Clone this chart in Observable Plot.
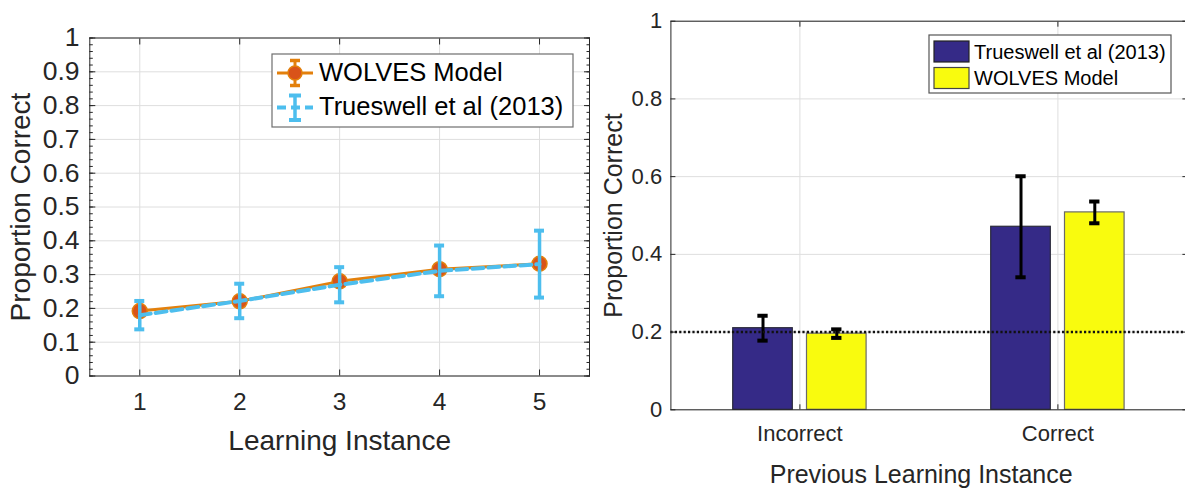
<!DOCTYPE html>
<html>
<head>
<meta charset="utf-8">
<script src="https://cdn.jsdelivr.net/npm/d3@7"></script>
<script src="https://cdn.jsdelivr.net/npm/@observablehq/plot@0.6"></script>
<style>
html, body { margin: 0; padding: 0; background: #fff; overflow: hidden; }
#wrap { position: relative; width: 1185px; height: 488px; overflow: hidden; background: #fff; }
#left, #right { position: absolute; top: 0; width: 600px; height: 488px; }
#left { left: 0; }
#right { left: 600px; }
#wrap svg { max-width: none !important; }
</style>
</head>
<body>
<div id="wrap"><div id="left"></div><div id="right"></div></div>
<script>
// ---------- data: left panel ----------
const instances = [1, 2, 3, 4, 5];
const wolvesMean = [0.192, 0.221, 0.280, 0.316, 0.332];
const wolvesErr  = [0.008, 0.008, 0.008, 0.008, 0.008];
const truesMean  = [0.180, 0.222, 0.270, 0.311, 0.331];
const truesErr   = [0.042, 0.051, 0.052, 0.075, 0.099];
const leftYTicks = [0, 0.1, 0.2, 0.3, 0.4, 0.5, 0.6, 0.7, 0.8, 0.9, 1];
const leftSeriesNames = ["WOLVES Model", "Trueswell et al (2013)"];
const leftXLabel = "Learning Instance";
const leftYLabel = "Proportion Correct";

// ---------- data: right panel ----------
const prevCategories = ["Incorrect", "Correct"];
const truesBar     = [0.210, 0.471];
const truesBarErr  = [0.032, 0.130];
const wolvesBar    = [0.196, 0.508];
const wolvesBarErr = [0.011, 0.028];
const chanceLevel = 0.2;
const rightYTicks = [0, 0.2, 0.4, 0.6, 0.8, 1];
const rightSeriesNames = ["Trueswell et al (2013)", "WOLVES Model"];
const rightXLabel = "Previous Learning Instance";
const rightYLabel = "Proportion Correct";

// ---------- styles ----------
const FONT = "'Liberation Sans', Arial, Helvetica, sans-serif";
const AX = "#262626";
const GRID = "#dedede";
const ORANGE_LINE = "#E3800C";
const ORANGE_FACE = "#D95319";
const BLUE = "#4DBEEE";
const DARK = "#352A87";
const YEL = "#F9FB0E";
const fmt = d => String(+d.toFixed(1));

// ---------- left panel ----------
const wolves = instances.map((x, i) => ({x, y: wolvesMean[i], e: wolvesErr[i]}));
const trues = instances.map((x, i) => ({x, y: truesMean[i], e: truesErr[i]}));
const leftMinor = d3.range(0, 1.0001, 0.02);
const capL = 0.05;

const leftPlot = Plot.plot({
  width: 600, height: 488,
  marginLeft: 89.3, marginRight: 11, marginTop: 37.5, marginBottom: 112.5,
  style: {fontFamily: FONT, color: AX, background: "transparent", overflow: "visible"},
  x: {domain: [0.5, 5.5]},
  y: {domain: [0, 1]},
  marks: [
    Plot.gridX({ticks: instances, stroke: GRID, strokeOpacity: 1}),
    Plot.gridY({ticks: leftYTicks, stroke: GRID, strokeOpacity: 1}),
    // WOLVES (orange)
    Plot.line(wolves, {x: "x", y: "y", stroke: ORANGE_LINE, strokeWidth: 3}),
    Plot.ruleX(wolves, {x: "x", y1: d => d.y - d.e, y2: d => d.y + d.e, stroke: ORANGE_LINE, strokeWidth: 3}),
    Plot.ruleY(wolves, {y: d => d.y + d.e, x1: d => d.x - capL, x2: d => d.x + capL, stroke: ORANGE_LINE, strokeWidth: 3}),
    Plot.ruleY(wolves, {y: d => d.y - d.e, x1: d => d.x - capL, x2: d => d.x + capL, stroke: ORANGE_LINE, strokeWidth: 3}),
    Plot.dot(wolves, {x: "x", y: "y", r: 7.5, fill: ORANGE_FACE, stroke: ORANGE_LINE, strokeWidth: 1.5}),
    // Trueswell (blue dashed)
    Plot.line(trues, {x: "x", y: "y", stroke: BLUE, strokeWidth: 4, strokeDasharray: "11,5"}),
    Plot.ruleX(trues, {x: "x", y1: d => d.y - d.e, y2: d => d.y + d.e, stroke: BLUE, strokeWidth: 3.5}),
    Plot.ruleY(trues, {y: d => d.y + d.e, x1: d => d.x - capL, x2: d => d.x + capL, stroke: BLUE, strokeWidth: 4}),
    Plot.ruleY(trues, {y: d => d.y - d.e, x1: d => d.x - capL, x2: d => d.x + capL, stroke: BLUE, strokeWidth: 4}),
    // axes
    Plot.frame({stroke: AX}),
    Plot.axisX({ticks: instances, tickSize: -6, tickPadding: 23, fontSize: 24.5, tickFormat: d => String(d), label: null, stroke: AX, fill: AX}),
    Plot.axisX({anchor: "top", ticks: instances, tickSize: -6, tickFormat: () => "", label: null, stroke: AX}),
    Plot.axisY({ticks: leftMinor, tickSize: -3.5, tickFormat: () => "", label: null, stroke: AX}),
    Plot.axisY({anchor: "right", ticks: leftMinor, tickSize: -3.5, tickFormat: () => "", label: null, stroke: AX}),
    Plot.axisY({ticks: leftYTicks, tickSize: -6, tickPadding: 16.3, fontSize: 26.5, tickFormat: fmt, label: null, stroke: AX, fill: AX}),
    Plot.axisY({anchor: "right", ticks: leftYTicks, tickSize: -6, tickFormat: () => "", label: null, stroke: AX}),
    Plot.text([leftXLabel], {text: d => d, frameAnchor: "bottom", dy: 73.5, lineAnchor: "bottom", fontSize: 28, fill: AX}),
    Plot.text([leftYLabel], {text: d => d, frameAnchor: "left", dx: -68.3, rotate: -90, textAnchor: "middle", lineAnchor: "middle", fontSize: 28, fill: AX})
  ]
});
document.getElementById("left").appendChild(leftPlot);

// left legend
{
  const g = d3.select(leftPlot).append("g").attr("font-family", FONT).attr("text-anchor", "start");
  g.append("rect").attr("x", 272).attr("y", 54).attr("width", 301).attr("height", 73)
    .attr("fill", "#fff").attr("stroke", "#6e6e6e").attr("stroke-width", 1.2);
  // entry 1: WOLVES
  g.append("line").attr("x1", 277).attr("x2", 313).attr("y1", 73).attr("y2", 73).attr("stroke", ORANGE_LINE).attr("stroke-width", 3);
  g.append("line").attr("x1", 295).attr("x2", 295).attr("y1", 59.5).attr("y2", 86.5).attr("stroke", ORANGE_LINE).attr("stroke-width", 3);
  g.append("line").attr("x1", 290).attr("x2", 300).attr("y1", 60.5).attr("y2", 60.5).attr("stroke", ORANGE_LINE).attr("stroke-width", 3.5);
  g.append("line").attr("x1", 290).attr("x2", 300).attr("y1", 85.5).attr("y2", 85.5).attr("stroke", ORANGE_LINE).attr("stroke-width", 3.5);
  g.append("circle").attr("cx", 295).attr("cy", 73).attr("r", 7).attr("fill", ORANGE_FACE).attr("stroke", ORANGE_LINE).attr("stroke-width", 1.5);
  g.append("text").attr("x", 319).attr("y", 81).attr("font-size", 25.5).attr("fill", "#000").text(leftSeriesNames[0]);
  // entry 2: Trueswell
  g.append("line").attr("x1", 277).attr("x2", 313).attr("y1", 107.5).attr("y2", 107.5).attr("stroke", BLUE).attr("stroke-width", 4).attr("stroke-dasharray", "9,5");
  g.append("line").attr("x1", 295).attr("x2", 295).attr("y1", 94).attr("y2", 121.5).attr("stroke", BLUE).attr("stroke-width", 3.5);
  g.append("line").attr("x1", 289).attr("x2", 301).attr("y1", 95.5).attr("y2", 95.5).attr("stroke", BLUE).attr("stroke-width", 4);
  g.append("line").attr("x1", 289).attr("x2", 301).attr("y1", 120).attr("y2", 120).attr("stroke", BLUE).attr("stroke-width", 4);
  g.append("text").attr("x", 319).attr("y", 115).attr("font-size", 25.5).attr("fill", "#000").text(leftSeriesNames[1]);
}

// ---------- right panel ----------
const barHalf = 0.1155, barOff = 0.143, capR = 0.02;
const truesBars = prevCategories.map((c, i) => ({c, xi: i + 1 - barOff, y: truesBar[i], e: truesBarErr[i]}));
const wolvesBars = prevCategories.map((c, i) => ({c, xi: i + 1 + barOff, y: wolvesBar[i], e: wolvesBarErr[i]}));
const allBars = truesBars.concat(wolvesBars);
const catTicks = prevCategories.map((c, i) => i + 1);

const rightPlot = Plot.plot({
  width: 600, height: 488,
  marginLeft: 70.4, marginRight: 13.6, marginTop: 20.7, marginBottom: 78.7,
  style: {fontFamily: FONT, color: AX, background: "transparent", overflow: "visible"},
  x: {domain: [0.5, 2.5]},
  y: {domain: [0, 1]},
  marks: [
    Plot.gridX({ticks: catTicks, stroke: GRID, strokeOpacity: 1}),
    Plot.gridY({ticks: rightYTicks, stroke: GRID, strokeOpacity: 1}),
    Plot.rectY(truesBars, {x1: d => d.xi - barHalf, x2: d => d.xi + barHalf, y1: 0, y2: "y", fill: DARK, stroke: "#2a2a3a", strokeWidth: 1.2}),
    Plot.rectY(wolvesBars, {x1: d => d.xi - barHalf, x2: d => d.xi + barHalf, y1: 0, y2: "y", fill: YEL, stroke: "#6a6a6a", strokeWidth: 1.2}),
    Plot.ruleX(allBars, {x: "xi", y1: d => d.y - d.e, y2: d => d.y + d.e, stroke: "#000", strokeWidth: 3}),
    Plot.ruleY(allBars, {y: d => d.y + d.e, x1: d => d.xi - capR, x2: d => d.xi + capR, stroke: "#000", strokeWidth: 4}),
    Plot.ruleY(allBars, {y: d => d.y - d.e, x1: d => d.xi - capR, x2: d => d.xi + capR, stroke: "#000", strokeWidth: 4}),
    Plot.ruleY([chanceLevel], {y: d => d, stroke: "#111", strokeWidth: 2.5, strokeDasharray: "2.2,2.2"}),
    Plot.frame({stroke: AX}),
    Plot.axisX({ticks: catTicks, tickSize: -5, tickPadding: 20.9, fontSize: 22, tickFormat: i => prevCategories[i - 1], label: null, stroke: AX, fill: AX}),
    Plot.axisX({anchor: "top", ticks: catTicks, tickSize: -5, tickFormat: () => "", label: null, stroke: AX}),
    Plot.axisY({ticks: rightYTicks, tickSize: -5, tickPadding: 13.7, fontSize: 22, tickFormat: fmt, label: null, stroke: AX, fill: AX}),
    Plot.axisY({anchor: "right", ticks: rightYTicks, tickSize: -5, tickFormat: () => "", label: null, stroke: AX}),
    Plot.text([rightXLabel], {text: d => d, frameAnchor: "bottom", dy: 73, dx: -7.7, lineAnchor: "bottom", fontSize: 25, fill: AX}),
    Plot.text([rightYLabel], {text: d => d, frameAnchor: "left", dx: -57.4, rotate: -90, textAnchor: "middle", lineAnchor: "middle", fontSize: 25, fill: AX})
  ]
});
document.getElementById("right").appendChild(rightPlot);

// right legend (coordinates relative to right svg)
{
  const g = d3.select(rightPlot).append("g").attr("font-family", FONT).attr("text-anchor", "start");
  g.append("rect").attr("x", 329).attr("y", 35).attr("width", 242).attr("height", 58)
    .attr("fill", "#fff").attr("stroke", "#555").attr("stroke-width", 1.2);
  g.append("rect").attr("x", 334).attr("y", 41).attr("width", 35).attr("height", 21)
    .attr("fill", DARK).attr("stroke", "#222").attr("stroke-width", 1.2);
  g.append("rect").attr("x", 334).attr("y", 67.5).attr("width", 35).attr("height", 21)
    .attr("fill", YEL).attr("stroke", "#444").attr("stroke-width", 1.2);
  g.append("text").attr("x", 374).attr("y", 59).attr("font-size", 20).attr("fill", "#000").text(rightSeriesNames[0]);
  g.append("text").attr("x", 374).attr("y", 84.5).attr("font-size", 20).attr("fill", "#000").text(rightSeriesNames[1]);
}
</script>
</body>
</html>
